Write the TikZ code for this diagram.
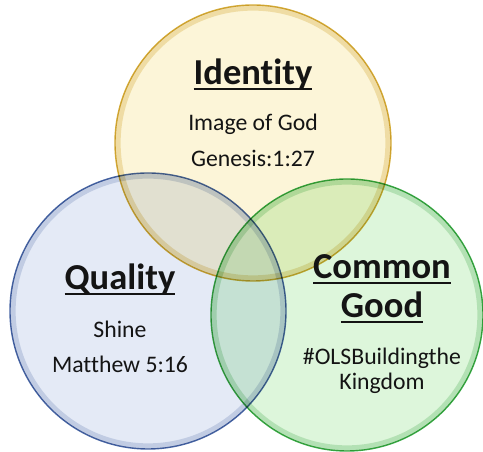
\documentclass[tikz,border=0pt]{standalone}
\usepackage{fontspec}
\setmainfont[Ligatures={NoCommon,TeX}]{Carlito}
\usetikzlibrary{shapes.geometric}
\definecolor{idfill}{RGB}{252,245,216}
\definecolor{idline}{RGB}{212,172,56}
\definecolor{qufill}{RGB}{228,234,246}
\definecolor{quline}{RGB}{72,102,164}
\definecolor{cgfill}{RGB}{221,246,219}
\definecolor{cgline}{RGB}{58,168,70}
\definecolor{ink}{RGB}{20,20,20}
% underlined heading
\newcommand{\hd}[1]{\setbox0=\hbox{#1}\leavevmode\rlap{\rule[-0.14em]{\wd0}{0.06em}}\box0}
\tikzstyle{disc} = [circle, draw, line width=0.8pt, inner sep=0pt]
\tikzstyle{glow} = [line width=3pt, draw opacity=0.3]
\tikzstyle{title} = [anchor=base, inner sep=0pt, text=ink,
    font=\bfseries\fontsize{20.8}{24}\selectfont]
\tikzstyle{verse} = [anchor=base, inner sep=0pt, text=ink,
    font=\fontsize{13.5}{16}\selectfont]

\begin{document}
\begin{tikzpicture}
            \useasboundingbox (0,0) rectangle (9.66,9.04);
            % Place circles
            \begin{scope}[blend mode=multiply]
            \node [disc, fill=idfill, draw=idline, minimum size=5.52cm] (id) at (5.06,6.18) {};
            \node [disc, fill=qufill, draw=quline, minimum size=5.52cm] (qu) at (2.96,2.82) {};
            \node [disc, fill=cgfill, draw=cgline, minimum size=5.44cm] (cg) at (6.94,2.74) {};
            \draw [glow, idline] (id.center) circle (2.70cm);
            \draw [glow, quline!70] (qu.center) circle (2.70cm);
            \draw [glow, cgline!80] (cg.center) circle (2.66cm);
            \end{scope}

            % Place texts
            \node [title] (idT) at (5.06,7.34) {\hd{Identity}};
            \node [verse] (idA) at (5.06,6.42) {Image of God};
            \node [verse] (idB) at (5.06,5.70) {Genesis:1:27};

            \node [title] (quT) at (2.40,3.24) {\hd{Quality}};
            \node [verse] (quA) at (2.40,2.28) {Shine};
            \node [verse] (quB) at (2.40,1.58) {Matthew 5:16};

            \node [title] (cgT) at (7.64,3.46) {\hd{Common}};
            \node [title] (cgU) at (7.64,2.68) {\hd{Good}};
            \node [verse] (cgA) at (7.64,1.74) {\#OLSBuildingthe};
            \node [verse] (cgB) at (7.64,1.24) {Kingdom};

\end{tikzpicture}
\end{document}
